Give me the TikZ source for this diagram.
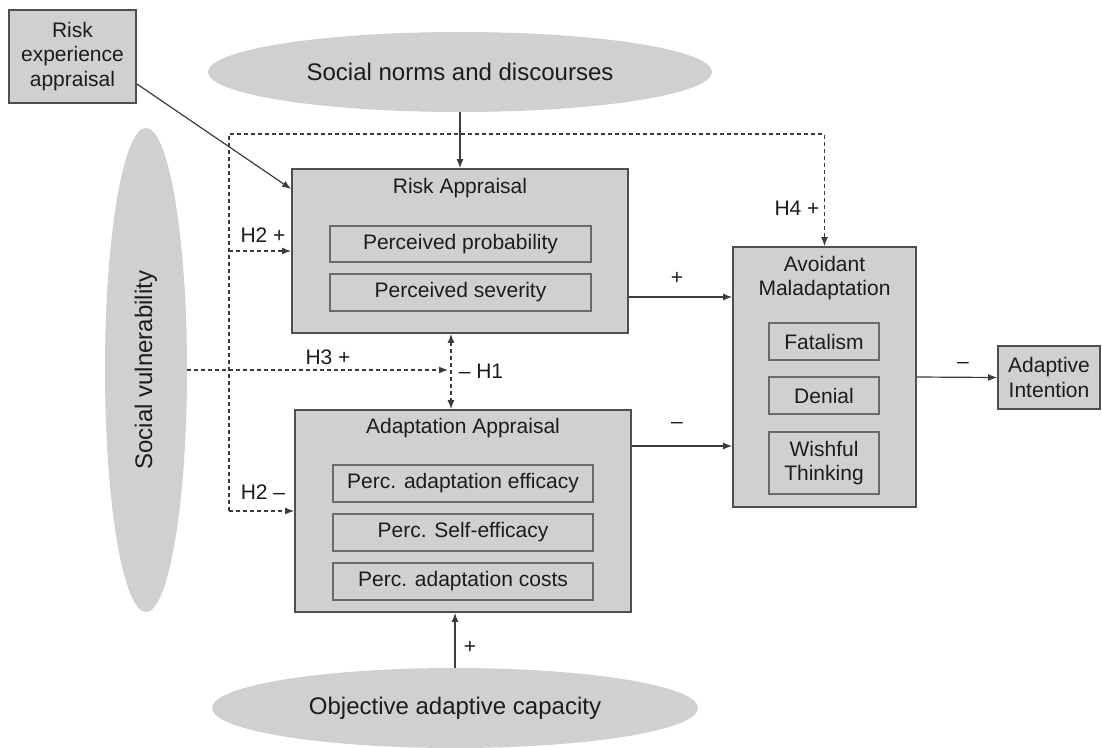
\documentclass[tikz,border=0pt]{standalone}
\usepackage{fontspec}
\setmainfont{Liberation Sans}
\usetikzlibrary{arrows.meta,shapes.geometric}
\definecolor{boxfill}{HTML}{D0D0D1}
\definecolor{ellfill}{HTML}{D0D0D0}
\definecolor{boxline}{HTML}{4F4F4F}
\definecolor{innerline}{HTML}{6A6A6A}
\definecolor{arrowcol}{HTML}{3C3C3C}
\definecolor{txt}{HTML}{1C1C1C}
\begin{document}
\begin{tikzpicture}[x=1pt,y=-1pt,
  every node/.style={text=txt},
  outerbox/.style={draw=boxline,line width=1.8pt,fill=boxfill,rectangle,inner sep=0pt,
    font=\fontsize{21}{24.5}\selectfont,align=center},
  innerbox/.style={draw=innerline,line width=1.4pt,fill=boxfill,rectangle,inner sep=0pt,
    font=\fontsize{21}{24.5}\selectfont,align=center},
  ovalnode/.style={ellipse,fill=ellfill,draw=none,inner sep=0pt,font=\fontsize{24}{28}\selectfont},
  lbl/.style={font=\fontsize{21}{24.5}\selectfont,inner sep=0pt,align=center},
  conn/.style={draw=arrowcol,line width=1.2pt,-{Latex[length=9pt,width=7pt]}},
  dconn/.style={draw=arrowcol,line width=1.2pt,dash pattern=on 4pt off 3pt},
  dtip/.style={-{Latex[length=9pt,width=7pt]}},
  dboth/.style={{Latex[length=9pt,width=7pt]}-{Latex[length=9pt,width=7pt]}},
]
\useasboundingbox[fill=white] (0,0) rectangle (1102,747);

% ellipses
\node[ovalnode,minimum width=504pt,minimum height=80pt] (norms) at (460,72) {Social norms and discourses};
\node[ovalnode,minimum width=486pt,minimum height=80pt] (obj) at (455,708) {Objective adaptive capacity};
\node[ovalnode,rotate=90,minimum width=484pt,minimum height=82pt] (vuln) at (146,370) {Social vulnerability};

% boxes
\node[outerbox,minimum width=127pt,minimum height=93pt] (rexp) at (72.5,56.5) {Risk\\experience\\appraisal};

\node[outerbox,minimum width=336pt,minimum height=164pt] (risk) at (460,251) {};
\node[lbl] (risktitle) at (460,188) {Risk Appraisal};
\node[innerbox,minimum width=261pt,minimum height=36pt] (pp) at (460.5,244) {Perceived probability};
\node[innerbox,minimum width=261pt,minimum height=37pt] (ps) at (460.5,292.5) {Perceived severity};

\node[outerbox,minimum width=336pt,minimum height=202pt] (adapt) at (463,511) {};
\node[lbl] (adapttitle) at (463,428) {Adaptation Appraisal};
\node[innerbox,minimum width=260pt,minimum height=37pt] (pae) at (463,483.5) {Perc. adaptation efficacy};
\node[innerbox,minimum width=260pt,minimum height=37pt] (pse) at (463,532.5) {Perc. Self-efficacy};
\node[innerbox,minimum width=260pt,minimum height=37pt] (pac) at (463,581.5) {Perc. adaptation costs};

\node[outerbox,minimum width=183pt,minimum height=260pt] (avoid) at (824.5,377) {};
\node[lbl] (avoidtitle) at (824.5,278) {Avoidant\\Maladaptation};
\node[innerbox,minimum width=110pt,minimum height=37pt] (fat) at (824,341.5) {Fatalism};
\node[innerbox,minimum width=110pt,minimum height=37pt] (den) at (824,395.5) {Denial};
\node[innerbox,minimum width=110pt,minimum height=62pt] (wish) at (824,463) {Wishful\\Thinking};

\node[outerbox,minimum width=102pt,minimum height=63pt] (intent) at (1049,377.5) {Adaptive\\Intention};

% solid connectors
\draw[conn] (rexp.east |- 0,84) -- (risk.west |- 0,189);
\draw[conn] (norms.south) -- (risk.north);
\draw[conn] (obj.north) -- (obj.north |- adapt.south);
\draw[conn] (risk.east |- 0,297) -- (avoid.west |- 0,297);
\draw[conn] (adapt.east |- 0,446) -- (avoid.west |- 0,446);
\draw[conn] (avoid.east) -- (intent.west);

% dashed connectors
\coordinate (dTL) at (229,134);
\coordinate (dBL) at (dTL |- adapt.west);
\coordinate (h1m) at (451,370);
\coordinate (h3end) at (448,370);
\draw[dconn,dtip] (dBL) -- (dTL) -- (avoid.north |- dTL) -- (avoid.north);
\draw[dconn,dtip] (dTL |- risk.west) -- (risk.west);
\draw[dconn,dtip] (dBL) -- (adapt.west);
\draw[dconn,dtip] (vuln.south) -- (h3end);
\draw[dconn,dboth] (risk.south -| h1m) -- (adapt.north -| h1m);

% labels
\node[lbl] (lh2p) at (263,235) {H2 +};
\node[lbl] (lh2m) at (263,492) {H2 –};
\node[lbl] (lh3) at (328,357) {H3 +};
\node[lbl] (lh1) at (481,371) {– H1};
\node[lbl] (lh4) at (797,208) {H4 +};
\node[lbl] (lrp) at (677,278) {+};
\node[lbl] (lam) at (677,425) {–};
\node[lbl] (lim) at (963,365) {–};
\node[lbl] (lop) at (470,647) {+};
\end{tikzpicture}
\end{document}
